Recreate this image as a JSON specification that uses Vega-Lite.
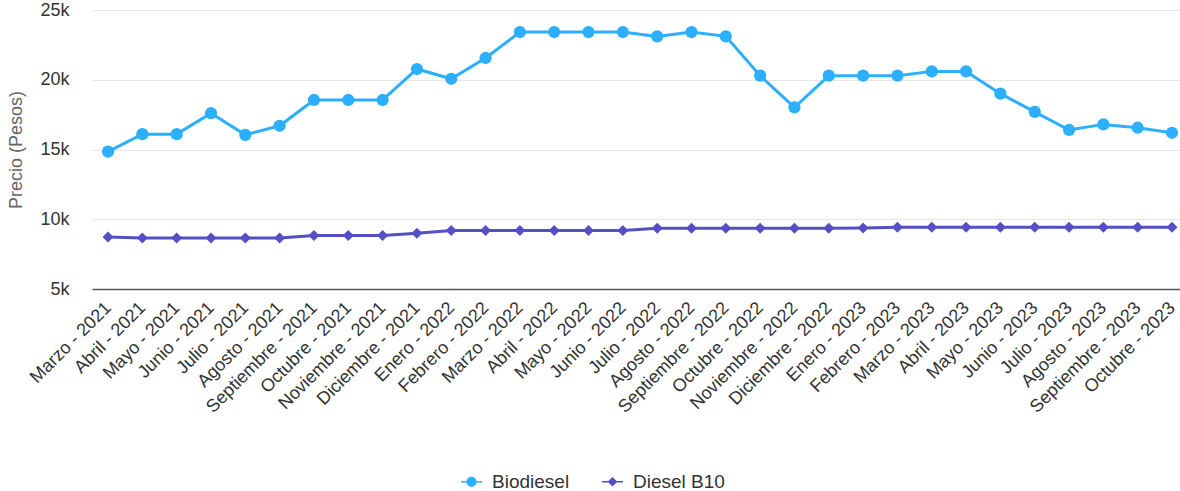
{
  "$schema": "https://vega.github.io/schema/vega-lite/v6.json",
  "width": 1088,
  "height": 279,
  "autosize": {"type": "none"},
  "padding": {"left": 92, "top": 10, "right": 0, "bottom": 202},
  "background": "#ffffff",
  "config": {
    "font": "Liberation Sans",
    "view": {"stroke": null},
    "axis": {"labelColor": "#333333", "titleColor": "#666666", "titleFontWeight": "normal"}
  },
  "data": {
    "values": [
      {"mes": "Marzo - 2021", "serie": "Biodiesel", "precio": 14850},
      {"mes": "Abril - 2021", "serie": "Biodiesel", "precio": 16100},
      {"mes": "Mayo - 2021", "serie": "Biodiesel", "precio": 16100},
      {"mes": "Junio - 2021", "serie": "Biodiesel", "precio": 17600},
      {"mes": "Julio - 2021", "serie": "Biodiesel", "precio": 16050},
      {"mes": "Agosto - 2021", "serie": "Biodiesel", "precio": 16700},
      {"mes": "Septiembre - 2021", "serie": "Biodiesel", "precio": 18550},
      {"mes": "Octubre - 2021", "serie": "Biodiesel", "precio": 18550},
      {"mes": "Noviembre - 2021", "serie": "Biodiesel", "precio": 18550},
      {"mes": "Diciembre - 2021", "serie": "Biodiesel", "precio": 20770},
      {"mes": "Enero - 2022", "serie": "Biodiesel", "precio": 20070},
      {"mes": "Febrero - 2022", "serie": "Biodiesel", "precio": 21560},
      {"mes": "Marzo - 2022", "serie": "Biodiesel", "precio": 23420},
      {"mes": "Abril - 2022", "serie": "Biodiesel", "precio": 23420},
      {"mes": "Mayo - 2022", "serie": "Biodiesel", "precio": 23420},
      {"mes": "Junio - 2022", "serie": "Biodiesel", "precio": 23420},
      {"mes": "Julio - 2022", "serie": "Biodiesel", "precio": 23110},
      {"mes": "Agosto - 2022", "serie": "Biodiesel", "precio": 23420},
      {"mes": "Septiembre - 2022", "serie": "Biodiesel", "precio": 23110},
      {"mes": "Octubre - 2022", "serie": "Biodiesel", "precio": 20290},
      {"mes": "Noviembre - 2022", "serie": "Biodiesel", "precio": 18020},
      {"mes": "Diciembre - 2022", "serie": "Biodiesel", "precio": 20290},
      {"mes": "Enero - 2023", "serie": "Biodiesel", "precio": 20290},
      {"mes": "Febrero - 2023", "serie": "Biodiesel", "precio": 20290},
      {"mes": "Marzo - 2023", "serie": "Biodiesel", "precio": 20600},
      {"mes": "Abril - 2023", "serie": "Biodiesel", "precio": 20600},
      {"mes": "Mayo - 2023", "serie": "Biodiesel", "precio": 19000},
      {"mes": "Junio - 2023", "serie": "Biodiesel", "precio": 17700},
      {"mes": "Julio - 2023", "serie": "Biodiesel", "precio": 16400},
      {"mes": "Agosto - 2023", "serie": "Biodiesel", "precio": 16800},
      {"mes": "Septiembre - 2023", "serie": "Biodiesel", "precio": 16560},
      {"mes": "Octubre - 2023", "serie": "Biodiesel", "precio": 16200},
      {"mes": "Marzo - 2021", "serie": "Diesel B10", "precio": 8730},
      {"mes": "Abril - 2021", "serie": "Diesel B10", "precio": 8660},
      {"mes": "Mayo - 2021", "serie": "Diesel B10", "precio": 8660},
      {"mes": "Junio - 2021", "serie": "Diesel B10", "precio": 8660},
      {"mes": "Julio - 2021", "serie": "Diesel B10", "precio": 8660},
      {"mes": "Agosto - 2021", "serie": "Diesel B10", "precio": 8660},
      {"mes": "Septiembre - 2021", "serie": "Diesel B10", "precio": 8840},
      {"mes": "Octubre - 2021", "serie": "Diesel B10", "precio": 8840},
      {"mes": "Noviembre - 2021", "serie": "Diesel B10", "precio": 8840},
      {"mes": "Diciembre - 2021", "serie": "Diesel B10", "precio": 9000},
      {"mes": "Enero - 2022", "serie": "Diesel B10", "precio": 9200},
      {"mes": "Febrero - 2022", "serie": "Diesel B10", "precio": 9200},
      {"mes": "Marzo - 2022", "serie": "Diesel B10", "precio": 9200},
      {"mes": "Abril - 2022", "serie": "Diesel B10", "precio": 9200},
      {"mes": "Mayo - 2022", "serie": "Diesel B10", "precio": 9200},
      {"mes": "Junio - 2022", "serie": "Diesel B10", "precio": 9200},
      {"mes": "Julio - 2022", "serie": "Diesel B10", "precio": 9350},
      {"mes": "Agosto - 2022", "serie": "Diesel B10", "precio": 9350},
      {"mes": "Septiembre - 2022", "serie": "Diesel B10", "precio": 9350},
      {"mes": "Octubre - 2022", "serie": "Diesel B10", "precio": 9350},
      {"mes": "Noviembre - 2022", "serie": "Diesel B10", "precio": 9350},
      {"mes": "Diciembre - 2022", "serie": "Diesel B10", "precio": 9350},
      {"mes": "Enero - 2023", "serie": "Diesel B10", "precio": 9370},
      {"mes": "Febrero - 2023", "serie": "Diesel B10", "precio": 9420},
      {"mes": "Marzo - 2023", "serie": "Diesel B10", "precio": 9420},
      {"mes": "Abril - 2023", "serie": "Diesel B10", "precio": 9420},
      {"mes": "Mayo - 2023", "serie": "Diesel B10", "precio": 9420},
      {"mes": "Junio - 2023", "serie": "Diesel B10", "precio": 9420},
      {"mes": "Julio - 2023", "serie": "Diesel B10", "precio": 9420},
      {"mes": "Agosto - 2023", "serie": "Diesel B10", "precio": 9420},
      {"mes": "Septiembre - 2023", "serie": "Diesel B10", "precio": 9420},
      {"mes": "Octubre - 2023", "serie": "Diesel B10", "precio": 9420}
    ]
  },
  "encoding": {
    "x": {
      "field": "mes",
      "type": "nominal",
      "sort": null,
      "scale": {"type": "point", "padding": 0.35, "align": 0.667},
      "axis": {
        "title": null,
        "labelAngle": -45,
        "labelAlign": "right",
        "labelBaseline": "middle",
        "labelFontSize": 18,
        "labelPadding": 16,
        "labelOverlap": false,
        "ticks": false,
        "domainColor": "#555555",
        "domainWidth": 1.5,
        "grid": false
      }
    },
    "y": {
      "field": "precio",
      "type": "quantitative",
      "scale": {"domain": [5000, 25000], "nice": false, "zero": false},
      "axis": {
        "title": "Precio (Pesos)",
        "titleFontSize": 18,
        "titlePadding": 14,
        "values": [5000, 10000, 15000, 20000, 25000],
        "format": "~s",
        "labelFontSize": 18,
        "labelPadding": 23,
        "ticks": false,
        "domain": false,
        "gridColor": "#e6e6e6"
      }
    },
    "color": {
      "field": "serie",
      "type": "nominal",
      "scale": {"domain": ["Biodiesel", "Diesel B10"], "range": ["#2caffe", "#544fc5"]},
      "legend": {
        "title": null,
        "orient": "none",
        "legendX": 369,
        "legendY": 461,
        "direction": "horizontal",
        "labelFontSize": 19,
        "labelColor": "#333333",
        "labelOffset": 10,
        "columnPadding": 32,
        "symbolSize": 441,
        "encode": {
          "symbols": {
            "update": {
              "shape": {"signal": "datum.value === 'Biodiesel' ? 'M-1,-0.07H-0.4V0.07H-1Z M0.4,-0.07H1V0.07H0.4Z M-0.48,0A0.48,0.48,0,1,1,0.48,0A0.48,0.48,0,1,1,-0.48,0Z' : 'M-1,-0.07H-0.4V0.07H-1Z M0.4,-0.07H1V0.07H0.4Z M-0.46,0L0,-0.46L0.46,0L0,0.46Z'"},
              "fill": {"scale": "color", "field": "value"},
              "strokeWidth": {"value": 0},
              "opacity": {"value": 1}
            }
          }
        }
      }
    }
  },
  "layer": [
    {"mark": {"type": "line", "strokeWidth": 3}},
    {
      "transform": [{"filter": "datum.serie === 'Biodiesel'"}],
      "mark": {"type": "point", "shape": "circle", "filled": true, "opacity": 1, "size": 150}
    },
    {
      "transform": [{"filter": "datum.serie === 'Diesel B10'"}],
      "mark": {"type": "point", "shape": "diamond", "filled": true, "opacity": 1, "size": 120}
    }
  ]
}
